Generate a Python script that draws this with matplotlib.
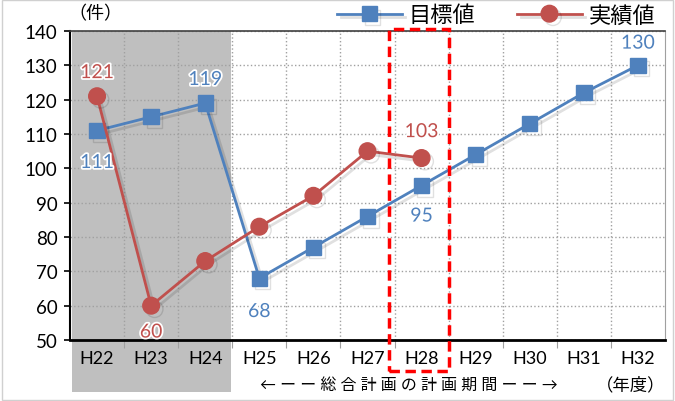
import numpy as np
import matplotlib.pyplot as plt
import matplotlib.patheffects as pe
from matplotlib.patches import Rectangle
import matplotlib.transforms as mtrans

plt.rcParams['font.family'] = ['Lato', 'Noto Sans CJK JP', 'DejaVu Sans']

# データ
years = ["H22", "H23", "H24", "H25", "H26", "H27", "H28", "H29", "H30", "H31", "H32"]
target = [111, 115, 119, 68, 77, 86, 95, 104, 113, 122, 130]
actual = [121, 60, 73, 83, 92, 105, 103]

blue = "#4F81BD"
red = "#C0504D"

fig = plt.figure(figsize=(6.75, 4.02), dpi=100)
ax = fig.add_axes([0.1037, 0.1517, 0.8815, 0.7687])

x = np.arange(len(years))
xa = np.arange(len(actual))

# 影付きの線
shadow = [pe.SimpleLineShadow(offset=(2.5, -2.5), shadow_color="black", alpha=0.12), pe.Normal()]

ax.plot(x, target, color=blue, lw=2, marker="s", ms=11, zorder=4,
        path_effects=shadow, label="目標値")
ax.plot(xa, actual, color=red, lw=2, marker="o", ms=12, zorder=5,
        path_effects=shadow, label="実績値")

# グレーの背景 (H22-H24)
tr = mtrans.blended_transform_factory(ax.transData, ax.transAxes)
ax.add_patch(Rectangle((-0.47, -0.168), 2.95, 1.168, transform=tr,
                       facecolor="#BFBFBF", edgecolor="none", zorder=0, clip_on=False))

# 赤い点線の枠 (H28)
ax.add_patch(Rectangle((5.40, -0.10), 1.105, 1.106, transform=tr, facecolor="none",
                       edgecolor="red", lw=2.5, ls=(0, (3, 1.6)), zorder=6, clip_on=False))

# 数値ラベル
outline = [pe.withStroke(linewidth=2.5, foreground="white")]
labels = [
    (0, 121, "121", red, 0, 17),
    (0, 111, "111", blue, 0, -23),
    (2, 119, "119", blue, 0, 17),
    (1, 60, "60", red, 0, -19),
    (3, 68, "68", blue, 0, -24),
    (6, 103, "103", red, 0, 19),
    (6, 95, "95", blue, 0, -22),
    (10, 130, "130", blue, 0, 16),
]
for xi, yi, t, c, dx, dy in labels:
    ax.annotate(t, (xi, yi), xytext=(dx, dy), textcoords="offset points",
                ha="center", va="center", color=c, fontsize=14,
                path_effects=outline, zorder=7)

ax.set_xlim(-0.5, 10.5)
ax.set_ylim(50, 140)
ax.set_yticks(range(50, 141, 10))
ax.set_xticks(x)
ax.set_xticklabels(years)
ax.tick_params(axis="x", length=0, labelsize=13, pad=7)
ax.tick_params(axis="y", length=4, width=1.2, direction="out", labelsize=13.5, pad=5)

# グリッド
ax.set_xticks(np.arange(0.5, 10.5, 1), minor=True)
ax.tick_params(axis="x", which="minor", length=6, color="#A0A0A0", width=0.8)
ax.grid(axis="y", color="#A0A0A0", ls=":", lw=1)
ax.grid(axis="x", which="minor", color="#A0A0A0", ls=":", lw=1)
ax.set_axisbelow(True)

ax.patch.set_alpha(0)
ax.spines["left"].set_color("black")
ax.spines["left"].set_linewidth(1.5)
ax.spines["bottom"].set_color("black")
ax.spines["bottom"].set_linewidth(2)
ax.spines["top"].set_color("#404040")
ax.spines["top"].set_linewidth(1.2)
ax.spines["right"].set_color("#A0A0A0")

# テキスト
fig.text(0.142, 0.966, "（件）", ha="center", va="center", fontsize=13)
fig.text(0.605, 0.042, "← ー ー 総 合 計 画 の 計 画 期 間 ー ー →", ha="center", va="center", fontsize=11.5)
fig.text(0.935, 0.042, "（年度）", ha="center", va="center", fontsize=12.5)

leg = fig.legend(loc="center", bbox_to_anchor=(0.735, 0.960), ncol=2, frameon=False,
                 fontsize=16, handlelength=2.9, columnspacing=1.9, handletextpad=0.3)

# 外枠
fig.patches.append(Rectangle((0.003, 0.003), 0.994, 0.994, transform=fig.transFigure,
                             facecolor="none", edgecolor="#D0D0D0", lw=1))

fig.savefig("out.png", dpi=100)
